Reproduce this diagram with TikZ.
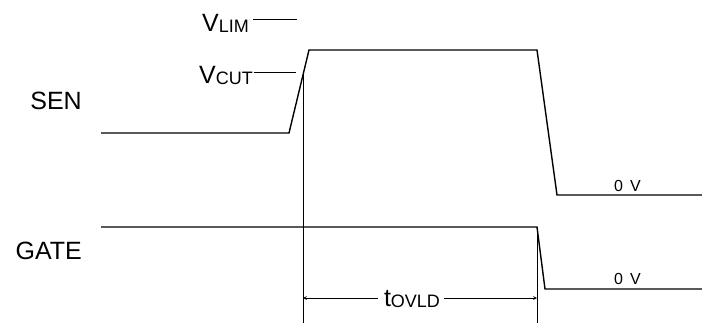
\documentclass[tikz,border=0pt]{standalone}
\usepackage{fontspec}
\setmainfont{Liberation Sans}
\newfontfamily\voltfont[WordSpace=1.6]{Liberation Sans}
\usetikzlibrary{arrows}
\newcommand{\subtxt}[1]{\raisebox{-1pt}{\fontsize{18}{20}\selectfont #1}}
\tikzstyle{wave} = [line width=1.4pt, line join=miter]
\tikzstyle{marker} = [line width=0.7pt]
\tikzstyle{signame} = [inner sep=0pt, font=\fontsize{25}{30}\selectfont]
\tikzstyle{volt} = [inner sep=0pt, font=\voltfont\fontsize{16}{18}\selectfont]
\tikzstyle{arrow} = [line width=0.7pt,->,>=stealth]

\begin{document}
\begin{tikzpicture}[x=1pt, y=-1pt]
            \useasboundingbox (0,0) rectangle (702,324);

            \node (sen) [signame, anchor=east] at (82,101) {SEN};
            \node (gate) [signame, anchor=east] at (82,251) {GATE};
            \node (vlim) [signame, anchor=base west] at (202,31) {V\subtxt{LIM}};
            \node (vcut) [signame, anchor=base west] at (199,83) {V\subtxt{CUT}};
            \node (zeroSen) [volt, anchor=base west] at (614,191) {0 V};
            \node (zeroGate) [volt, anchor=base west] at (614,284) {0 V};
            \node (tovld) [signame, anchor=base] at (412,306) {t\subtxt{OVLD}};

            \coordinate (senLow) at (101,133);
            \coordinate (senRise) at (289,133);
            \coordinate (senTop) at (309,50);
            \coordinate (senFall) at (537,50);
            \coordinate (senZero) at (557,195);
            \coordinate (senEnd) at (702,195);
            \coordinate (gateHigh) at (101,227);
            \coordinate (gateFall) at (537,227);
            \coordinate (gateZero) at (545,289);
            \coordinate (gateEnd) at (702,289);
            \coordinate (limEnd) at (297,19);
            \coordinate (cutEnd) at (296,72);
            \coordinate (cross) at (303,72);
            \coordinate (leftBot) at (303,323);
            \coordinate (rightBot) at (537,323);
            \coordinate (tl) at (303,298);
            \coordinate (tr) at (537,298);

            \draw [wave] (senLow) -- (senRise) -- (senTop) -- (senFall) -- (senZero) -- (senEnd);
            \draw [wave] (gateHigh) -- (gateFall) -- (gateZero) -- (gateEnd);
            \draw [marker] ([xshift=4pt]vlim.east |- limEnd) -- (limEnd);
            \draw [marker] ([xshift=1pt]vcut.east |- cutEnd) -- (cutEnd);
            \draw [marker] (cross) -- (leftBot);
            \draw [marker] (gateFall) -- (rightBot);
            \draw [arrow] ([xshift=-6pt]tovld.west |- tl) -- (tl);
            \draw [arrow] ([xshift=4pt]tovld.east |- tr) -- (tr);
        \end{tikzpicture}
\end{document}
